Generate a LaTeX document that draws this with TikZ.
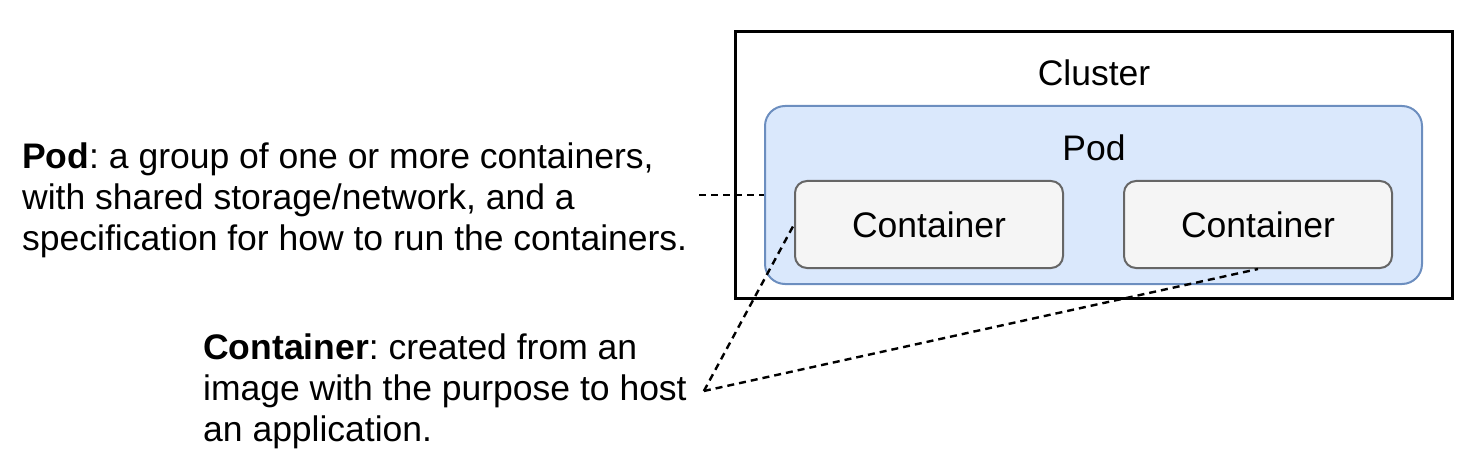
\documentclass[tikz,border=0pt]{standalone}
\usepackage{fontspec}
\setmainfont{Liberation Sans}
\usetikzlibrary{positioning}

\definecolor{podfill}{HTML}{DAE8FC}
\definecolor{podline}{HTML}{6C8EBF}
\definecolor{contfill}{HTML}{F5F5F5}
\definecolor{contline}{HTML}{666666}

\tikzset{
  clusterbox/.style={draw=black, line width=3pt, minimum width=717pt, minimum height=266pt},
  podbox/.style={draw=podline, fill=podfill, line width=2pt, rounded corners=20pt, minimum width=657pt, minimum height=178pt},
  contbox/.style={draw=contline, fill=contfill, line width=2pt, rounded corners=12pt, minimum width=268pt, minimum height=87pt},
  note/.style={align=left, inner ysep=0pt},
  link/.style={line width=2.4pt, dash pattern=on 7pt off 5pt}
}

\begin{document}
\frenchspacing
\begin{tikzpicture}[x=1pt, y=-1pt, every node/.style={font=\fontsize{35.5}{41}\selectfont}]
\useasboundingbox (0,0) rectangle (1474,470);
\node[clusterbox] (cluster) at (1093.5,165) {};
\node (clusterlabel) at (1094,73) {Cluster};
\node[podbox] (pod) at (1093.5,195) {};
\node (podlabel) at (1094,148) {Pod};
\node[contbox] (cont1) at (929,224.5) {Container};
\node[contbox] (cont2) at (1258,224.5) {Container};
\node[note, anchor=west, inner xsep=12pt] (podtext) at (10,200)
  {\textbf{Pod}: a group of one or more containers,\\with shared storage/network, and a\\specification for how to run the containers.};
\node[note, anchor=west, inner xsep=17pt] (conttext) at (186,391)
  {\textbf{Container}: created from an\\image with the purpose to host\\an application.};
\draw[link] (pod.west -| podtext.east) -- (pod.west);
\draw[link] (conttext.east) -- (cont1.west);
\draw[link] (conttext.east) -- (cont2.south);
\end{tikzpicture}
\end{document}
